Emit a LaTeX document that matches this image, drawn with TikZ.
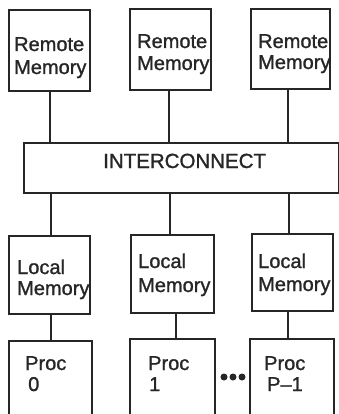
\documentclass[tikz,border=0pt]{standalone}
\usepackage{fontspec}
\setmainfont{Liberation Sans}
\newfontfamily\scanfont[FakeBold=1.2]{Liberation Sans}
\begin{document}
\begin{tikzpicture}[x=1pt,y=-1pt,
  box/.style={draw=black!85,line width=2.4pt,rectangle,inner sep=0pt,anchor=north west},
  wire/.style={draw=black!85,line width=2.4pt},
  lbl/.style={inner sep=0pt,anchor=base west,font=\scanfont\fontsize{20}{23}\selectfont,text=black!85},
  dot/.style={circle,fill=black!85,inner sep=0pt,minimum size=7pt}]
\clip (0,0) rectangle (339,414);
\fill[white] (0,0) rectangle (339,414);
% remote memories
\node[box,minimum width=81pt,minimum height=81pt] (r1) at (8,9) {};
\node[box,minimum width=81pt,minimum height=81pt] (r2) at (129,8) {};
\node[box,minimum width=79pt,minimum height=80pt] (r3) at (250,8) {};
% interconnect
\node[box,minimum width=315pt,minimum height=50pt] (ic) at (23,142) {};
% local memories
\node[box,minimum width=81pt,minimum height=78pt] (l1) at (8,235) {};
\node[box,minimum width=83pt,minimum height=78pt] (l2) at (130,234) {};
\node[box,minimum width=81pt,minimum height=77pt] (l3) at (251,233) {};
% processors
\node[box,minimum width=83pt,minimum height=90pt] (p1) at (8,340) {};
\node[box,minimum width=85pt,minimum height=90pt] (p2) at (129,338) {};
\node[box,minimum width=84pt,minimum height=90pt] (p3) at (249,338) {};
% connectors
\draw[wire] ([xshift=0.5pt]r1.south) -- ([xshift=0.5pt]r1.south |- ic.north);
\draw[wire] ([xshift=-1.5pt]r2.south) -- ([xshift=-1.5pt]r2.south |- ic.north);
\draw[wire] ([xshift=-2.5pt]r3.south) -- ([xshift=-2.5pt]r3.south |- ic.north);
\draw[wire] ([xshift=1.5pt]l1.north) -- ([xshift=1.5pt]l1.north |- ic.south);
\draw[wire] ([xshift=-2.5pt]l2.north) -- ([xshift=-2.5pt]l2.north |- ic.south);
\draw[wire] ([xshift=-3.5pt]l3.north) -- ([xshift=-3.5pt]l3.north |- ic.south);
\draw[wire] ([xshift=1.5pt]l1.south) -- ([xshift=1.5pt]l1.south |- p1.north);
\draw[wire] ([xshift=3.5pt]l2.south) -- ([xshift=3.5pt]l2.south |- p2.north);
\draw[wire] ([xshift=-4.5pt]l3.south) -- ([xshift=-4.5pt]l3.south |- p3.north);
% dots
\node[dot] (d1) at (224,377) {};
\node[dot] (d2) at (233,377) {};
\node[dot] (d3) at (242,377) {};
% labels
\node[lbl] (t1) at (14,51) {Remote};
\node[lbl] (t2) at (14,74) {Memory};
\node[lbl] (t3) at (137,48) {Remote};
\node[lbl] (t4) at (137,70) {Memory};
\node[lbl] (t5) at (258,48) {Remote};
\node[lbl] (t6) at (258,69) {Memory};
\node[lbl,font=\scanfont\fontsize{20.5}{23}\selectfont] (t7) at (103,168) {INTERCONNECT};
\node[lbl] (t8) at (17,274) {Local};
\node[lbl] (t9) at (17,295) {Memory};
\node[lbl] (t10) at (138,268) {Local};
\node[lbl] (t11) at (138,292) {Memory};
\node[lbl] (t12) at (258,268) {Local};
\node[lbl] (t13) at (258,291) {Memory};
\node[lbl] (t14) at (25,370) {Proc};
\node[lbl] (t15) at (28,391) {0};
\node[lbl] (t16) at (148,370) {Proc};
\node[lbl] (t17) at (149,391) {1};
\node[lbl] (t18) at (264,370) {Proc};
\node[lbl] (t19) at (267,391) {P–1};
\end{tikzpicture}
\end{document}
